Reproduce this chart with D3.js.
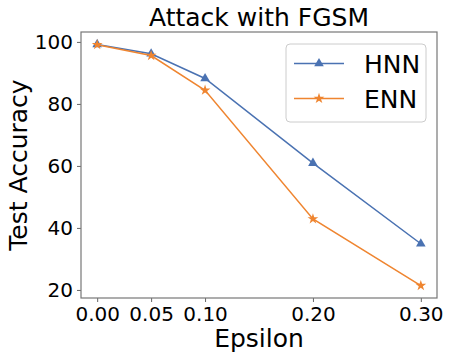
<!DOCTYPE html>
<html>
<head>
<meta charset="utf-8">
<script src="https://cdn.jsdelivr.net/npm/d3@7"></script>
<style>
  body { margin: 0; background: #fff; }
  text { font-family: "DejaVu Sans", sans-serif; fill: #000; }
</style>
</head>
<body>
<div id="chart"></div>
<script>
// data
var epsilon = [0.00, 0.05, 0.10, 0.20, 0.30];
var hnn = [99.2, 96.2, 88.2, 60.9, 34.9];
var enn = [99.1, 95.6, 84.4, 42.9, 21.4];
var xTicks = [0.00, 0.05, 0.10, 0.20, 0.30];
var yTicks = [20, 40, 60, 80, 100];

var width = 451, height = 361;
var margin = {top: 32, right: 14, bottom: 63, left: 81};
var w = width - margin.left - margin.right,
    h = height - margin.top - margin.bottom;

var svg = d3.select("#chart").append("svg")
  .attr("width", width)
  .attr("height", height);

var g = svg.append("g")
  .attr("transform", "translate(" + margin.left + "," + margin.top + ")");

// matplotlib-like 5% padding on each side
var xScale = d3.scaleLinear().domain([-0.015, 0.315]).range([0, w]);
var yScale = d3.scaleLinear().domain([17.4, 103.2]).range([h, 0]);

// X axis
var xAxis = g.append("g")
  .attr("transform", "translate(0," + h + ")")
  .call(d3.axisBottom(xScale).tickValues(xTicks).tickSize(4).tickPadding(5)
    .tickFormat(d3.format(".2f")));
xAxis.select(".domain").remove();
xAxis.selectAll(".tick line").attr("stroke", "#666").attr("stroke-width", 1);
xAxis.selectAll(".tick text").style("font-size", "20px").style("font-family", "DejaVu Sans");

// Y axis
var yAxis = g.append("g")
  .call(d3.axisLeft(yScale).tickValues(yTicks).tickSize(4).tickPadding(4));
yAxis.select(".domain").remove();
yAxis.selectAll(".tick line").attr("stroke", "#666").attr("stroke-width", 1);
yAxis.selectAll(".tick text").style("font-size", "20px").style("font-family", "DejaVu Sans");

// frame
g.append("rect")
  .attr("width", w)
  .attr("height", h)
  .attr("fill", "none")
  .attr("stroke", "#777")
  .attr("stroke-width", 1.2);

var series = [
  {name: "HNN", values: hnn, color: "#4a72b2", marker: d3.symbolTriangle},
  {name: "ENN", values: enn, color: "#ef8530", marker: d3.symbolStar}
];

var line = d3.line()
  .x(function(d, i) { return xScale(epsilon[i]); })
  .y(function(d) { return yScale(d); });

series.forEach(function(s) {
  g.append("path")
    .datum(s.values)
    .attr("fill", "none")
    .attr("stroke", s.color)
    .attr("stroke-width", 1.5)
    .attr("d", line);

  g.selectAll(".pt-" + s.name)
    .data(s.values)
    .enter().append("path")
    .attr("transform", function(d, i) {
      return "translate(" + xScale(epsilon[i]) + "," + yScale(d) + ")";
    })
    .attr("d", d3.symbol().type(s.marker).size(s.name === "HNN" ? 40 : 36))
    .attr("fill", s.color);
});

// title and axis labels
svg.append("text")
  .attr("x", margin.left + w / 2)
  .attr("y", 26)
  .attr("text-anchor", "middle")
  .style("font-size", "25px")
  .text("Attack with FGSM");

svg.append("text")
  .attr("x", margin.left + w / 2)
  .attr("y", 347)
  .attr("text-anchor", "middle")
  .style("font-size", "25px")
  .text("Epsilon");

svg.append("text")
  .attr("transform", "translate(27," + (margin.top + h / 2) + ") rotate(-90)")
  .attr("text-anchor", "middle")
  .style("font-size", "25px")
  .text("Test Accuracy");

// legend
var legend = svg.append("g").attr("transform", "translate(286,44)");
legend.append("rect")
  .attr("width", 140)
  .attr("height", 78)
  .attr("rx", 4)
  .attr("fill", "#fff")
  .attr("fill-opacity", 0.8)
  .attr("stroke", "#ccc")
  .attr("stroke-width", 1);

series.forEach(function(s, i) {
  var ly = 19.5 + i * 35;
  legend.append("line")
    .attr("x1", 8).attr("x2", 58)
    .attr("y1", ly).attr("y2", ly)
    .attr("stroke", s.color)
    .attr("stroke-width", 1.5);
  legend.append("path")
    .attr("transform", "translate(33," + ly + ")")
    .attr("d", d3.symbol().type(s.marker).size(s.name === "HNN" ? 40 : 36))
    .attr("fill", s.color);
  legend.append("text")
    .attr("x", 78)
    .attr("y", ly + 9)
    .style("font-size", "25px")
    .text(s.name);
});
</script>
</body>
</html>
